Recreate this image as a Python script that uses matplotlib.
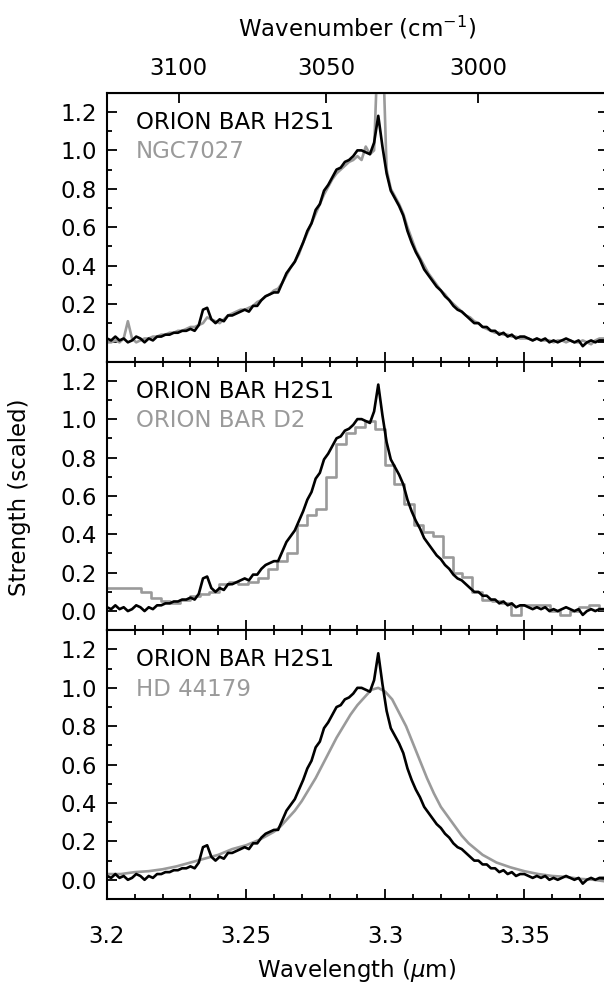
import numpy as np
import matplotlib
matplotlib.use("Agg")
import matplotlib.pyplot as plt
from matplotlib.ticker import MultipleLocator, FixedLocator, FuncFormatter

# ---------------- data ----------------
# ORION BAR H2S1 (black), sampled every 0.0015 um from 3.2 um
h2s1_start, h2s1_step = 3.2, 0.0015
h2s1_flux = [
    0.02, 0.01, 0.03, 0.01, 0.02, 0.00, 0.01, 0.03, 0.02, 0.00,
    0.02, 0.01, 0.03, 0.03, 0.04, 0.04, 0.05, 0.05, 0.06, 0.06,
    0.07, 0.06, 0.09, 0.17, 0.18, 0.12, 0.10, 0.12, 0.11, 0.14,
    0.14, 0.15, 0.16, 0.17, 0.16, 0.19, 0.19, 0.22, 0.24, 0.25,
    0.26, 0.26, 0.31, 0.36, 0.39, 0.42, 0.47, 0.52, 0.58, 0.62,
    0.69, 0.72, 0.79, 0.82, 0.86, 0.90, 0.91, 0.94, 0.95, 0.97,
    1.00, 1.00, 0.99, 0.98, 1.04, 1.18, 1.02, 0.88, 0.79, 0.75,
    0.71, 0.66, 0.58, 0.52, 0.47, 0.43, 0.38, 0.35, 0.32, 0.29,
    0.27, 0.24, 0.22, 0.19, 0.17, 0.16, 0.14, 0.12, 0.10, 0.10,
    0.08, 0.08, 0.06, 0.06, 0.04, 0.05, 0.03, 0.04, 0.02, 0.03,
    0.03, 0.02, 0.01, 0.02, 0.01, 0.02, 0.00, 0.01, 0.00, 0.01,
    0.02, 0.01, 0.00, 0.01, -0.02, 0.00, 0.01, 0.00, 0.01, 0.01,
    0.01,
]
# NGC7027 (grey, top panel), same sampling
ngc7027_flux = [
    0.00, 0.00, 0.01, 0.00, 0.02, 0.11, 0.02, 0.00, 0.01, 0.02,
    0.02, 0.03, 0.03, 0.04, 0.04, 0.05, 0.05, 0.06, 0.06, 0.07,
    0.08, 0.08, 0.09, 0.10, 0.13, 0.12, 0.11, 0.10, 0.12, 0.14,
    0.15, 0.16, 0.17, 0.17, 0.18, 0.19, 0.21, 0.22, 0.24, 0.25,
    0.27, 0.28, 0.31, 0.35, 0.39, 0.42, 0.46, 0.52, 0.57, 0.62,
    0.67, 0.72, 0.77, 0.81, 0.85, 0.88, 0.90, 0.92, 0.94, 0.95,
    0.97, 0.95, 1.02, 0.98, 1.00, 1.60, 1.60, 0.90, 0.80, 0.76,
    0.72, 0.67, 0.60, 0.54, 0.48, 0.44, 0.40, 0.36, 0.33, 0.30,
    0.27, 0.25, 0.22, 0.20, 0.18, 0.16, 0.14, 0.13, 0.11, 0.10,
    0.08, 0.07, 0.06, 0.05, 0.05, 0.04, 0.04, 0.03, 0.03, 0.02,
    0.02, 0.02, 0.01, 0.02, 0.01, 0.01, 0.01, 0.00, 0.01, 0.01,
    0.00, 0.01, 0.00, 0.00, 0.01, 0.00, -0.01, 0.01, 0.02, 0.02,
    0.02,
]
# ORION BAR D2 (grey, middle panel), coarse sampling every 0.0035 um
d2_start, d2_step = 3.2, 0.0035
d2_flux = [
    0.12, 0.12, 0.12, 0.12, 0.10, 0.07, 0.05, 0.04, 0.06, 0.08,
    0.09, 0.10, 0.14, 0.15, 0.14, 0.15, 0.17, 0.22, 0.26, 0.30,
    0.45, 0.50, 0.53, 0.70, 0.87, 0.93, 0.96, 0.99, 0.95, 0.76,
    0.66, 0.56, 0.45, 0.41, 0.39, 0.28, 0.20, 0.18, 0.10, 0.06,
    0.05, 0.04, -0.02, 0.03, 0.03, 0.03, 0.00, -0.02, 0.00, 0.02,
    0.03, 0.01,
]
# HD 44179 (grey, bottom panel), smooth profile
hd_wave = [3.200, 3.205, 3.210, 3.215, 3.220, 3.225, 3.230, 3.235, 3.240,
           3.245, 3.250, 3.255, 3.260, 3.2625, 3.265, 3.2675, 3.270, 3.2725,
           3.275, 3.2775, 3.280, 3.2825, 3.285, 3.2875, 3.290, 3.2925, 3.295,
           3.2975, 3.300, 3.3025, 3.305, 3.3075, 3.310, 3.3125, 3.315, 3.3175,
           3.320, 3.3225, 3.325, 3.3275, 3.330, 3.335, 3.340, 3.345, 3.350,
           3.355, 3.360, 3.365, 3.370, 3.375, 3.380]
hd_flux = [0.03, 0.03, 0.04, 0.045, 0.055, 0.07, 0.09, 0.11, 0.13,
           0.16, 0.18, 0.21, 0.25, 0.28, 0.32, 0.36, 0.41, 0.47,
           0.53, 0.60, 0.67, 0.74, 0.80, 0.86, 0.91, 0.95, 0.99,
           1.00, 0.98, 0.94, 0.87, 0.80, 0.71, 0.62, 0.53, 0.45,
           0.38, 0.33, 0.28, 0.23, 0.19, 0.13, 0.09, 0.065, 0.045,
           0.03, 0.02, 0.015, 0.005, 0.0, -0.01]

ref_label = "ORION BAR H2S1"
cmp_labels = ["NGC7027", "ORION BAR D2", "HD 44179"]
wn_ticks = [3100, 3050, 3000]
x_major = [3.2, 3.25, 3.3, 3.35]
y_major = [0.0, 0.2, 0.4, 0.6, 0.8, 1.0, 1.2]

h2s1_wave = h2s1_start + h2s1_step * np.arange(len(h2s1_flux))
d2_wave = d2_start + d2_step * np.arange(len(d2_flux))

# ---------------- figure ----------------
plt.rcParams['font.family'] = ['DejaVu Sans']
FS = 16.5
GREY = '#9a9a9a'
fig = plt.figure(figsize=(6.04, 9.88), dpi=100)

W, H = 604.0, 988.0
left_px, right_px = 107.0, 607.8
top_px, bot_px = 92.8, 899.0
ph = (bot_px - top_px) / 3.0

axes = []
for k in range(3):
    b = (H - (top_px + (k + 1) * ph)) / H
    ax = fig.add_axes([left_px / W, b, (right_px - left_px) / W, ph / H])
    axes.append(ax)

comparisons = [
    (h2s1_wave, ngc7027_flux, 'default'),
    (d2_wave, d2_flux, 'steps-mid'),
    (hd_wave, hd_flux, 'default'),
]

for k, ax in enumerate(axes):
    cw, cf, ds = comparisons[k]
    ax.plot(cw, cf, color=GREY, lw=1.9, drawstyle=ds, zorder=2)
    ax.plot(h2s1_wave, h2s1_flux, color='black', lw=1.9, zorder=3)
    ax.set_xlim(3.2, 3.38)
    ax.set_ylim(-0.1, 1.3)
    ax.yaxis.set_major_locator(FixedLocator(y_major))
    ax.yaxis.set_minor_locator(MultipleLocator(0.1))
    ax.yaxis.set_major_formatter(FuncFormatter(lambda v, p: f"{v:.1f}"))
    ax.xaxis.set_major_locator(FixedLocator(x_major))
    ax.xaxis.set_minor_locator(MultipleLocator(0.01))
    ax.xaxis.set_major_formatter(FuncFormatter(lambda v, p: f"{v:g}"))
    ax.tick_params(which='both', direction='in', left=True, right=True,
                   bottom=True, top=(k > 0), width=1.3, labelsize=FS)
    ax.tick_params(which='major', length=7)
    ax.tick_params(which='minor', length=3.5)
    ax.tick_params(axis='y', pad=7)
    ax.tick_params(axis='x', pad=19)
    if k < 2:
        ax.tick_params(axis='x', labelbottom=False)
    for s in ax.spines.values():
        s.set_linewidth(1.5)
    ax.text(0.058, 0.89, ref_label, transform=ax.transAxes, color='black',
            fontsize=FS, ha='left', va='center')
    ax.text(0.058, 0.78, cmp_labels[k], transform=ax.transAxes, color=GREY,
            fontsize=FS, ha='left', va='center')

sec = axes[0].secondary_xaxis('top', functions=(lambda x: 1e4 / x, lambda x: 1e4 / x))
sec.xaxis.set_major_locator(FixedLocator(wn_ticks))
sec.xaxis.set_minor_locator(FixedLocator([]))
sec.tick_params(direction='in', length=7, width=1.3, labelsize=FS, pad=9)

fig.text(357 / W, 1 - 28 / H, "Wavenumber (cm$^{-1}$)", ha='center', va='center', fontsize=FS)
fig.text(357 / W, 1 - 970 / H, "Wavelength ($\\mu$m)", ha='center', va='center', fontsize=FS)
fig.text(20 / W, 1 - 497 / H, "Strength (scaled)", ha='center', va='center',
         rotation=90, fontsize=FS)

fig.savefig("out.png", dpi=100)
